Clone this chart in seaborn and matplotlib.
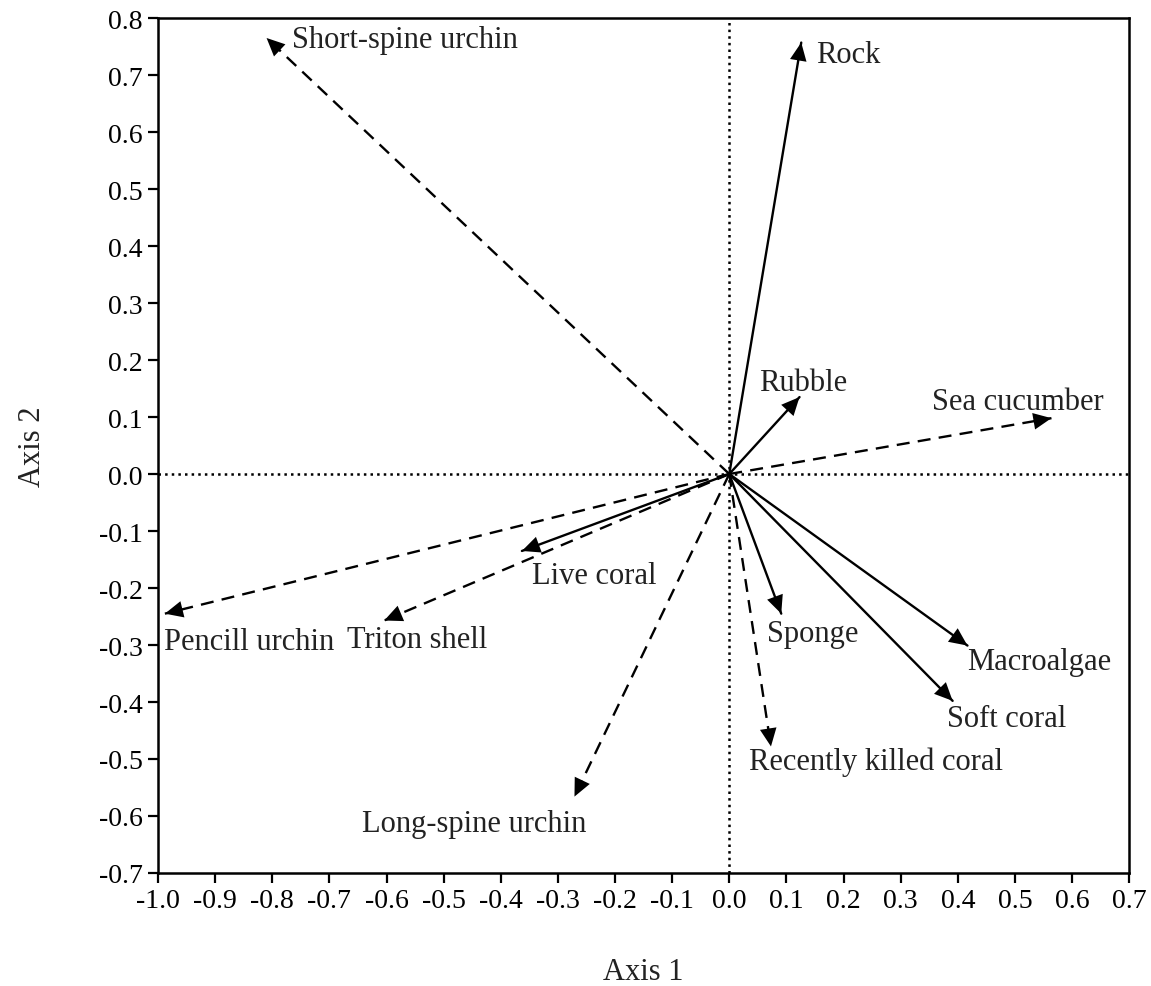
import pandas as pd
import seaborn as sns
import matplotlib.pyplot as plt

# Biplot vectors (Axis 1, Axis 2)
variables = ["Short-spine urchin", "Rock", "Rubble", "Sea cucumber", "Live coral",
             "Pencill urchin", "Triton shell", "Long-spine urchin", "Sponge",
             "Macroalgae", "Soft coral", "Recently killed coral"]
axis1 = [-0.81, 0.126, 0.123, 0.564, -0.363, -0.988, -0.604, -0.271, 0.091, 0.417, 0.391, 0.073]
axis2 = [0.765, 0.757, 0.135, 0.098, -0.135, -0.245, -0.257, -0.566, -0.245, -0.301, -0.398, -0.478]
kind = ["animal", "habitat", "habitat", "animal", "habitat", "animal",
        "animal", "animal", "habitat", "habitat", "habitat", "animal"]

xticks = [round(-1.0 + 0.1 * i, 1) for i in range(18)]
yticks = [round(-0.7 + 0.1 * i, 1) for i in range(16)]

# label placement: offset in pixels from arrow tip, horizontal alignment
label_pos = {
    "Short-spine urchin": (25, -2, "left"),
    "Rock": (15, -12, "left"),
    "Rubble": (-40, 15, "left"),
    "Sea cucumber": (-119, 17, "left"),
    "Live coral": (10, -25, "left"),
    "Pencill urchin": (-1, -28, "left"),
    "Triton shell": (-37, -19, "left"),
    "Long-spine urchin": (12, -27, "right"),
    "Sponge": (-14, -20, "left"),
    "Macroalgae": (0, -16, "left"),
    "Soft coral": (-6, -18, "left"),
    "Recently killed coral": (-22, -15, "left"),
}

# long-form table of segments from origin to tip
rows = []
for name, x, y, k in zip(variables, axis1, axis2, kind):
    rows.append({"name": name, "x": 0.0, "y": 0.0, "kind": k})
    rows.append({"name": name, "x": x, "y": y, "kind": k})
seg = pd.DataFrame(rows)

sns.set_style("ticks")
plt.rcParams["font.family"] = ["Liberation Serif", "DejaVu Serif"]
plt.rcParams["axes.unicode_minus"] = False

fig = plt.figure(figsize=(11.51, 9.87), dpi=100)
ax = fig.add_axes([0.1373, 0.1145, 0.8437, 0.8662])

ax.axhline(0, color="black", ls=":", lw=1.8, zorder=1)
ax.axvline(0, color="black", ls=":", lw=1.8, zorder=1)

sns.lineplot(data=seg, x="x", y="y", units="name", style="kind",
             dashes={"habitat": "", "animal": (5.5, 3.5)}, estimator=None,
             sort=False, color="black", lw=1.7, legend=False, ax=ax, zorder=2)

for name, x, y in zip(variables, axis1, axis2):
    ax.annotate("", xy=(x, y), xytext=(0, 0),
                arrowprops=dict(arrowstyle="-|>,head_length=0.65,head_width=0.3",
                                lw=0, color="black", shrinkA=0, shrinkB=0,
                                mutation_scale=20))
    dx, dy, ha = label_pos[name]
    ax.annotate(name, xy=(x, y), xytext=(dx, dy), textcoords="offset pixels",
                ha=ha, va="center", fontsize=22, color="#222222")

ax.set_xlim(-1.0, 0.7)
ax.set_ylim(-0.7, 0.8)
ax.set_xticks(xticks)
ax.set_xticklabels([f"{t:.1f}" for t in xticks])
ax.set_yticks(yticks)
ax.set_yticklabels([f"{t:.1f}" for t in yticks])
ax.tick_params(direction="out", length=7, width=1.6, labelsize=20,
               colors="black", pad=4)
for s in ax.spines.values():
    s.set_color("black")
    s.set_linewidth(1.8)

ax.set_xlabel("Axis 1", fontsize=22, color="#222222")
ax.set_ylabel("Axis 2", fontsize=22, color="#222222")
ax.xaxis.set_label_coords(0.5, -0.098)
ax.yaxis.set_label_coords(-0.114, 0.5)

fig.savefig("out.png", dpi=100)
